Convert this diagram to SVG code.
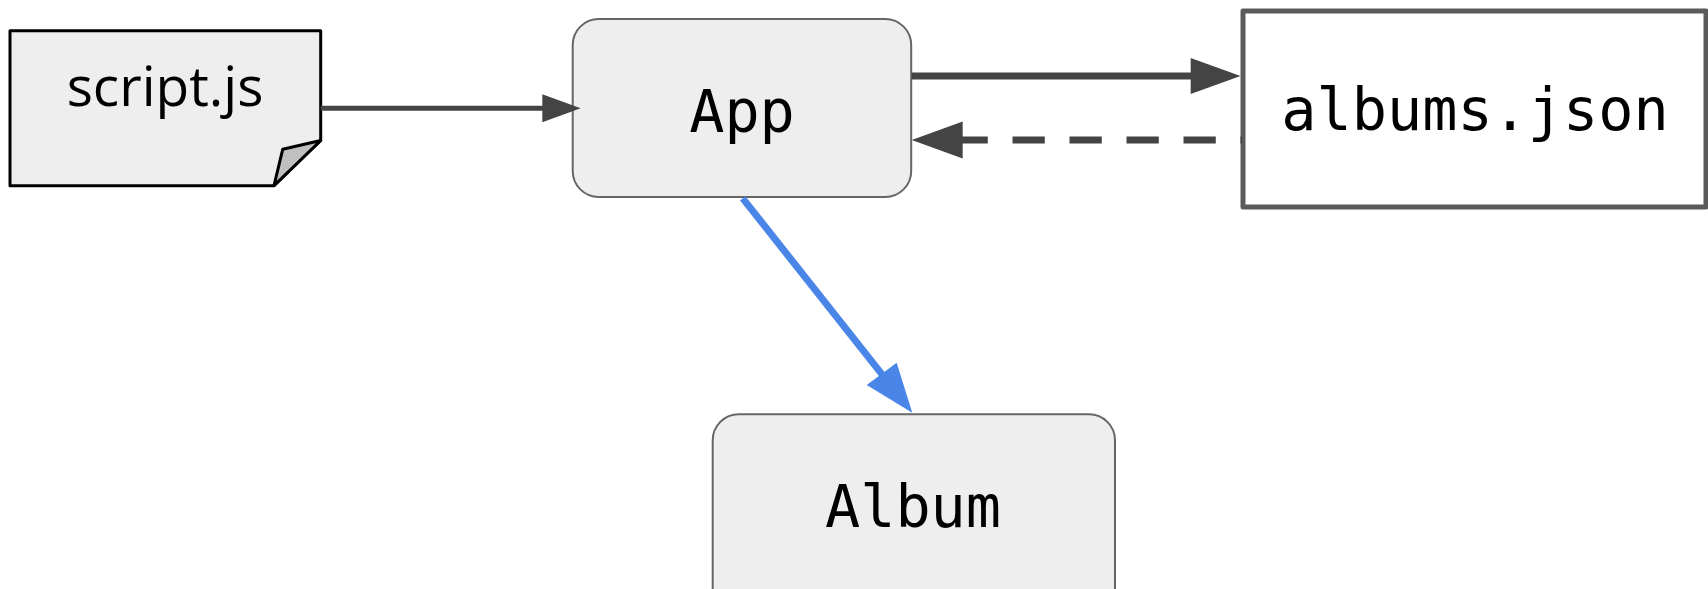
<svg xmlns="http://www.w3.org/2000/svg" width="1708" height="589" viewBox="0 0 1708 589">
  <style>
    .mono { font-family: "DejaVu Sans Mono", "Liberation Mono", monospace; font-size: 58.5px; fill: #000; text-anchor: middle; }
    .sans { font-family: "Open Sans", "Noto Sans", "Liberation Sans", sans-serif; font-size: 55px; fill: #000; text-anchor: middle; }
    .rnode { fill: #eeeeee; stroke: #666666; stroke-width: 2; }
    .edge { fill: none; stroke: #444444; }
  </style>
  <rect width="1708" height="589" fill="#ffffff"/>
  <g id="node-script">
    <path d="M10,30.7 L320.7,30.7 L320.7,140.5 L274,185.7 L10,185.7 Z" fill="#eeeeee" stroke="#000" stroke-width="3" stroke-linejoin="round"/>
    <path d="M320.7,140.5 L282.7,149.3 L274,185.7 Z" fill="#c0c0c0" stroke="#000" stroke-width="3" stroke-linejoin="round"/>
    <text class="sans" x="165" y="106">script.js</text>
  </g>
  <g id="node-app">
    <rect class="rnode" x="572.7" y="19" width="338.5" height="178" rx="26" ry="26"/>
    <text class="mono" x="742" y="131.7">App</text>
  </g>
  <g id="node-albums-json">
    <rect x="1243" y="11" width="463" height="196" fill="#ffffff" stroke="#5a5a5a" stroke-width="5" stroke-linejoin="round"/>
    <text class="mono" x="1475" y="130">albums.json</text>
  </g>
  <g id="node-album">
    <rect class="rnode" x="712.7" y="414.3" width="402.3" height="200" rx="26" ry="26"/>
    <text class="mono" x="913" y="526.7">Album</text>
  </g>
  <g id="connectors">
    <line class="edge" x1="320.7" y1="108.3" x2="545" y2="108.3" stroke-width="5"/>
    <polygon points="542.3,94.3 580.7,108.3 542.3,122.3" fill="#444444"/>
    <line class="edge" x1="911.7" y1="76" x2="1193" y2="76" stroke-width="7"/>
    <polygon points="1190.7,58 1240.5,76 1190.7,94" fill="#444444"/>
    <line class="edge" x1="1242" y1="140" x2="962" y2="140" stroke-width="7" stroke-dasharray="32.3 24.7" stroke-dashoffset="30.8"/>
    <polygon points="962.7,121.5 911.7,140 962.7,158.5" fill="#444444"/>
    <line x1="742.7" y1="198.3" x2="884" y2="376.8" stroke="#4a86e8" stroke-width="7"/>
    <polygon points="866.7,385 912.3,412.7 896.7,362.7" fill="#4a86e8"/>
  </g>
</svg>
